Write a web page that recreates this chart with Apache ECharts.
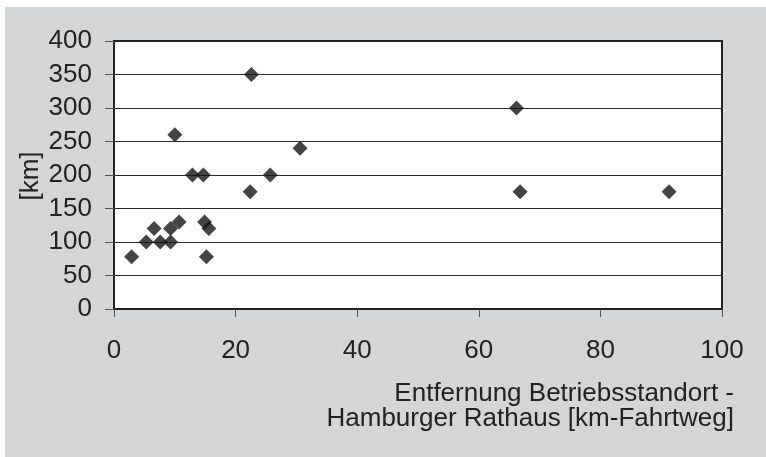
<!DOCTYPE html>
<html>
<head>
<meta charset="utf-8">
<script src="https://cdn.jsdelivr.net/npm/echarts@6/dist/echarts.min.js"></script>
<style>
  html, body { margin: 0; padding: 0; background: #ffffff; }
  #chart { width: 766px; height: 457px; }
</style>
</head>
<body>
<div id="chart"></div>
<script>
// Distance from site to Hamburg city hall (km by road) vs. daily distance (km)
const distanceToCityHall = [2.9, 5.3, 6.6, 7.6, 9.3, 9.3, 10.7, 10.0, 12.9, 14.7, 14.9, 15.6, 15.2, 22.6, 22.4, 25.7, 30.6, 66.2, 66.8, 91.3];
const kilometres = [78, 100, 120, 100, 100, 120, 130, 260, 200, 200, 130, 120, 78, 350, 175, 200, 240, 300, 175, 175];
const xTicks = [0, 20, 40, 60, 80, 100];
const yTicks = [0, 50, 100, 150, 200, 250, 300, 350, 400];
const yAxisTitle = '[km]';
const xAxisTitle = ['Entfernung Betriebsstandort -', 'Hamburger Rathaus [km-Fahrtweg]'];

const FONT = '"Liberation Sans", Arial, sans-serif';
const FONT_SIZE = 26;
const points = distanceToCityHall.map((x, i) => [x, kilometres[i]]);

const chart = echarts.init(document.getElementById('chart'), null, { renderer: 'canvas' });
chart.setOption({
  animation: false,
  backgroundColor: '#ffffff',
  graphic: [
    { type: 'rect', z: -10, shape: { x: 5, y: 7, width: 761, height: 450 }, style: { fill: '#d4d5d7' } },
    {
      type: 'text', x: 31, y: 176, rotation: Math.PI / 2,
      style: { text: yAxisTitle, font: FONT_SIZE + 'px ' + FONT, fill: '#222', align: 'center', verticalAlign: 'middle' }
    },
    {
      type: 'text', x: 734, y: 381,
      style: { text: xAxisTitle.join('\n'), font: FONT_SIZE + 'px ' + FONT, lineHeight: 25, fill: '#222', align: 'right', verticalAlign: 'top' }
    }
  ],
  grid: {
    left: 114, top: 41, width: 608, height: 268,
    show: true, backgroundColor: '#ffffff', borderColor: '#222', borderWidth: 2
  },
  xAxis: {
    type: 'value', min: xTicks[0], max: xTicks[xTicks.length - 1], interval: xTicks[1] - xTicks[0],
    axisLine: { show: true, lineStyle: { color: '#222', width: 2 } },
    axisTick: { show: true, inside: false, length: 8, lineStyle: { color: '#555' } },
    axisLabel: { color: '#222', fontFamily: FONT, fontSize: FONT_SIZE, margin: 29 },
    splitLine: { show: false }
  },
  yAxis: {
    type: 'value', min: yTicks[0], max: yTicks[yTicks.length - 1], interval: yTicks[1] - yTicks[0],
    axisLine: { show: true, lineStyle: { color: '#222', width: 2 } },
    axisTick: { show: true, inside: false, length: 9, lineStyle: { color: '#555' } },
    axisLabel: { color: '#222', fontFamily: FONT, fontSize: FONT_SIZE, margin: 22 },
    splitLine: { show: true, lineStyle: { color: '#2a2a2a', width: 1 } }
  },
  series: [{
    type: 'scatter',
    data: points,
    symbol: 'diamond',
    symbolSize: [15, 15],
    itemStyle: { color: '#151515' }
  }]
});
</script>
</body>
</html>
